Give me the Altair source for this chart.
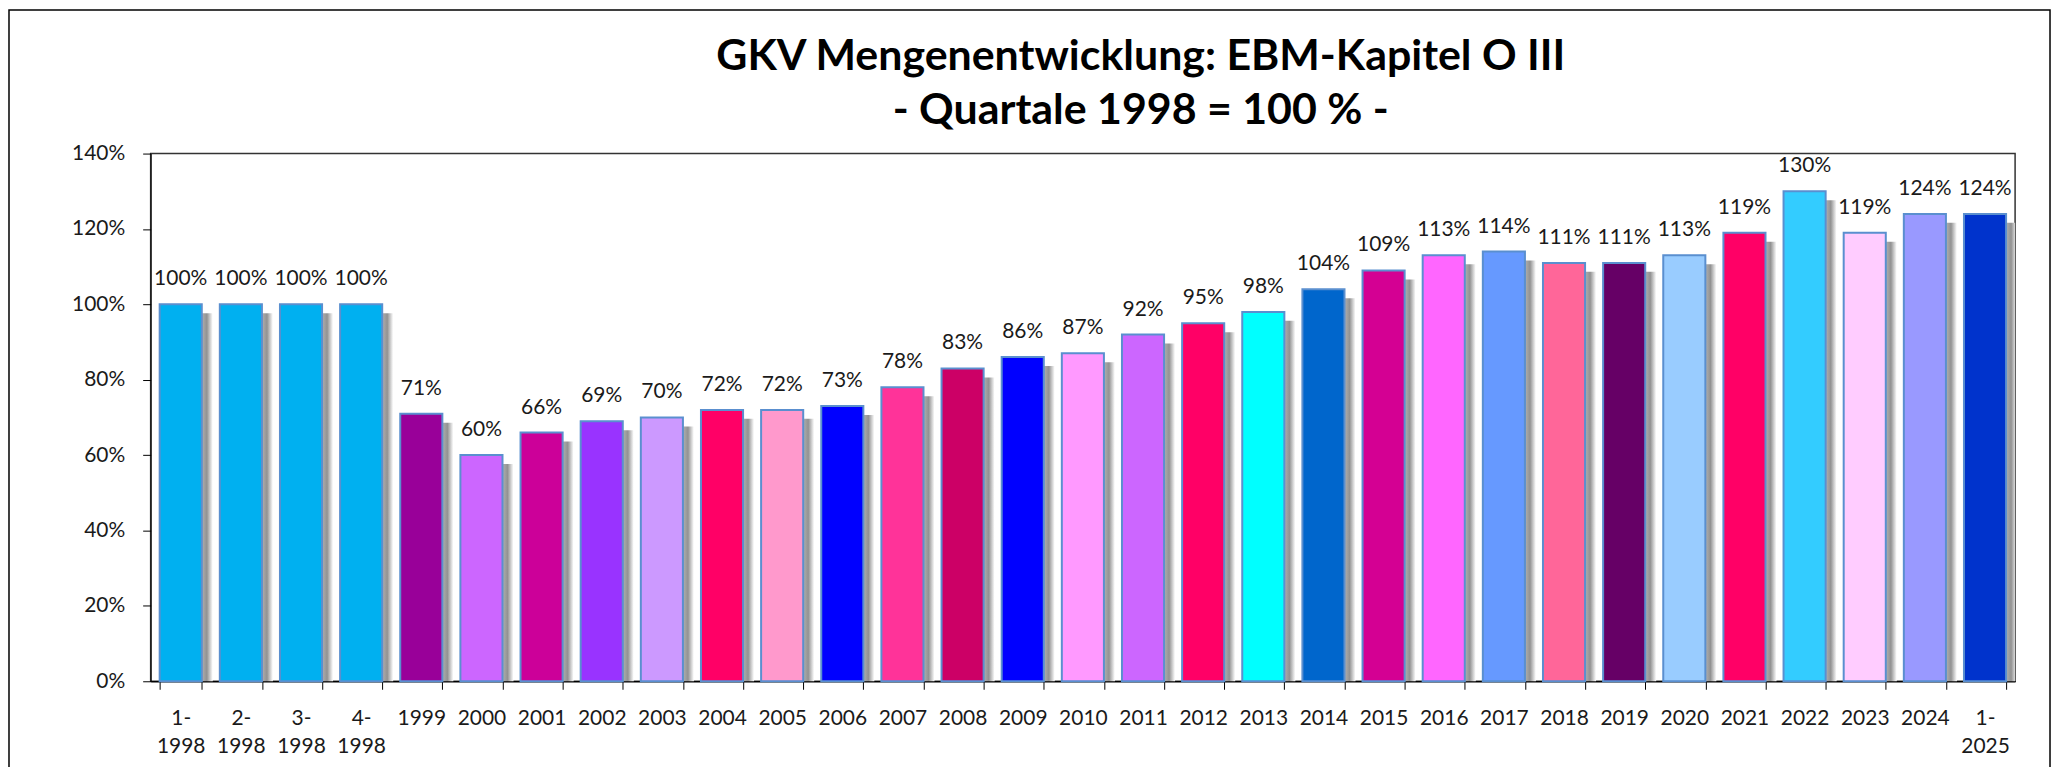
import altair as alt
import pandas as pd

categories = ["1-\n1998", "2-\n1998", "3-\n1998", "4-\n1998", "1999", "2000", "2001", "2002",
              "2003", "2004", "2005", "2006", "2007", "2008", "2009", "2010", "2011", "2012",
              "2013", "2014", "2015", "2016", "2017", "2018", "2019", "2020", "2021", "2022",
              "2023", "2024", "1-\n2025"]
values = [100, 100, 100, 100, 71, 60, 66, 69, 70, 72, 72, 73, 78, 83, 86, 87, 92, 95, 98,
          104, 109, 113, 114, 111, 111, 113, 119, 130, 119, 124, 124]
colors = ["#00B0F0", "#00B0F0", "#00B0F0", "#00B0F0", "#990099", "#CC66FF", "#CC0099", "#9933FF",
          "#CC99FF", "#FF0066", "#FF99CC", "#0000FF", "#FF3399", "#CC0066", "#0000FF", "#FF99FF",
          "#CC66FF", "#FF0066", "#00FFFF", "#0066CC", "#D40093", "#FF66FF", "#6699FF", "#FF6699",
          "#660066", "#99CCFF", "#FF0066", "#33CCFF", "#FFCCFF", "#9999FF", "#0033CC"]
title_lines = ["GKV Mengenentwicklung: EBM-Kapitel O III", "- Quartale 1998 = 100 % -"]
y_ticks = [0, 0.2, 0.4, 0.6, 0.8, 1.0, 1.2, 1.4]

df = pd.DataFrame({"cat": categories, "value": [v / 100 for v in values], "color": colors})

W, H = 1869, 529
FONT = "Lato"
TXT = "#1a1a1a"

x_enc = alt.X(
    "cat:N", sort=categories,
    scale=alt.Scale(paddingInner=0.3, paddingOuter=0.15),
    axis=alt.Axis(title=None, labelAngle=0, labelExpr="split(datum.label, '\\n')",
                  tickBand="extent", tickSize=8, tickColor="#000", domainColor="#000",
                  domainWidth=1.5, labelFont=FONT, labelFontSize=21, labelColor=TXT,
                  labelPadding=18, labelLineHeight=28, labelBaseline="top"),
)
y_enc = alt.Y(
    "value:Q",
    scale=alt.Scale(domain=[0, 1.4], nice=False),
    axis=alt.Axis(title=None, values=y_ticks, format=".0%", grid=False, tickSize=8,
                  tickColor="#000", domainColor="#000", labelFont=FONT, labelFontSize=21,
                  labelColor=TXT, labelPadding=18),
)

base = alt.Chart(df)

shadow_grad = alt.Gradient(
    gradient="linear",
    stops=[alt.GradientStop(color="#b0b0b0", offset=0),
           alt.GradientStop(color="#b0b0b0", offset=0.74),
           alt.GradientStop(color="#929292", offset=0.86),
           alt.GradientStop(color="#ffffff", offset=1)],
    x1=0, x2=1, y1=0, y2=0,
)

shadow = base.mark_bar(xOffset=11, yOffset=9, clip=True, color=shadow_grad).encode(
    x=x_enc, y=y_enc)

bars = base.mark_bar(stroke="#5A8FCF", strokeWidth=2).encode(
    x=x_enc, y=y_enc,
    fill=alt.Fill("color:N", scale=None),
)

labels = base.mark_text(font=FONT, fontSize=21, color=TXT, baseline="alphabetic", dy=-19).encode(
    x=x_enc, y=y_enc, text=alt.Text("value:Q", format=".0%"),
)

frame = alt.Chart(pd.DataFrame({"a": [0]})).mark_rect(
    fillOpacity=0, stroke="#000", strokeWidth=1.5, clip=False
).encode(x=alt.value(-142), x2=alt.value(1904), y=alt.value(-144), y2=alt.value(700))

chart = alt.layer(frame, shadow, bars, labels).properties(
    width=W, height=H,
    padding={"left": 143, "top": 145, "right": 40, "bottom": 85},
    autosize=alt.AutoSizeParams(type="none"),
    view=alt.ViewBackground(stroke="#333", strokeWidth=1.5, fill="white"),
    title=alt.TitleParams(text=title_lines, font=FONT, fontSize=43, fontWeight="bold",
                          lineHeight=54, anchor="middle", dx=58, offset=0, dy=124,
                          color="#000"),
).configure(background="white")

chart.save("out.html", embed_options={"renderer": "svg", "actions": False})
